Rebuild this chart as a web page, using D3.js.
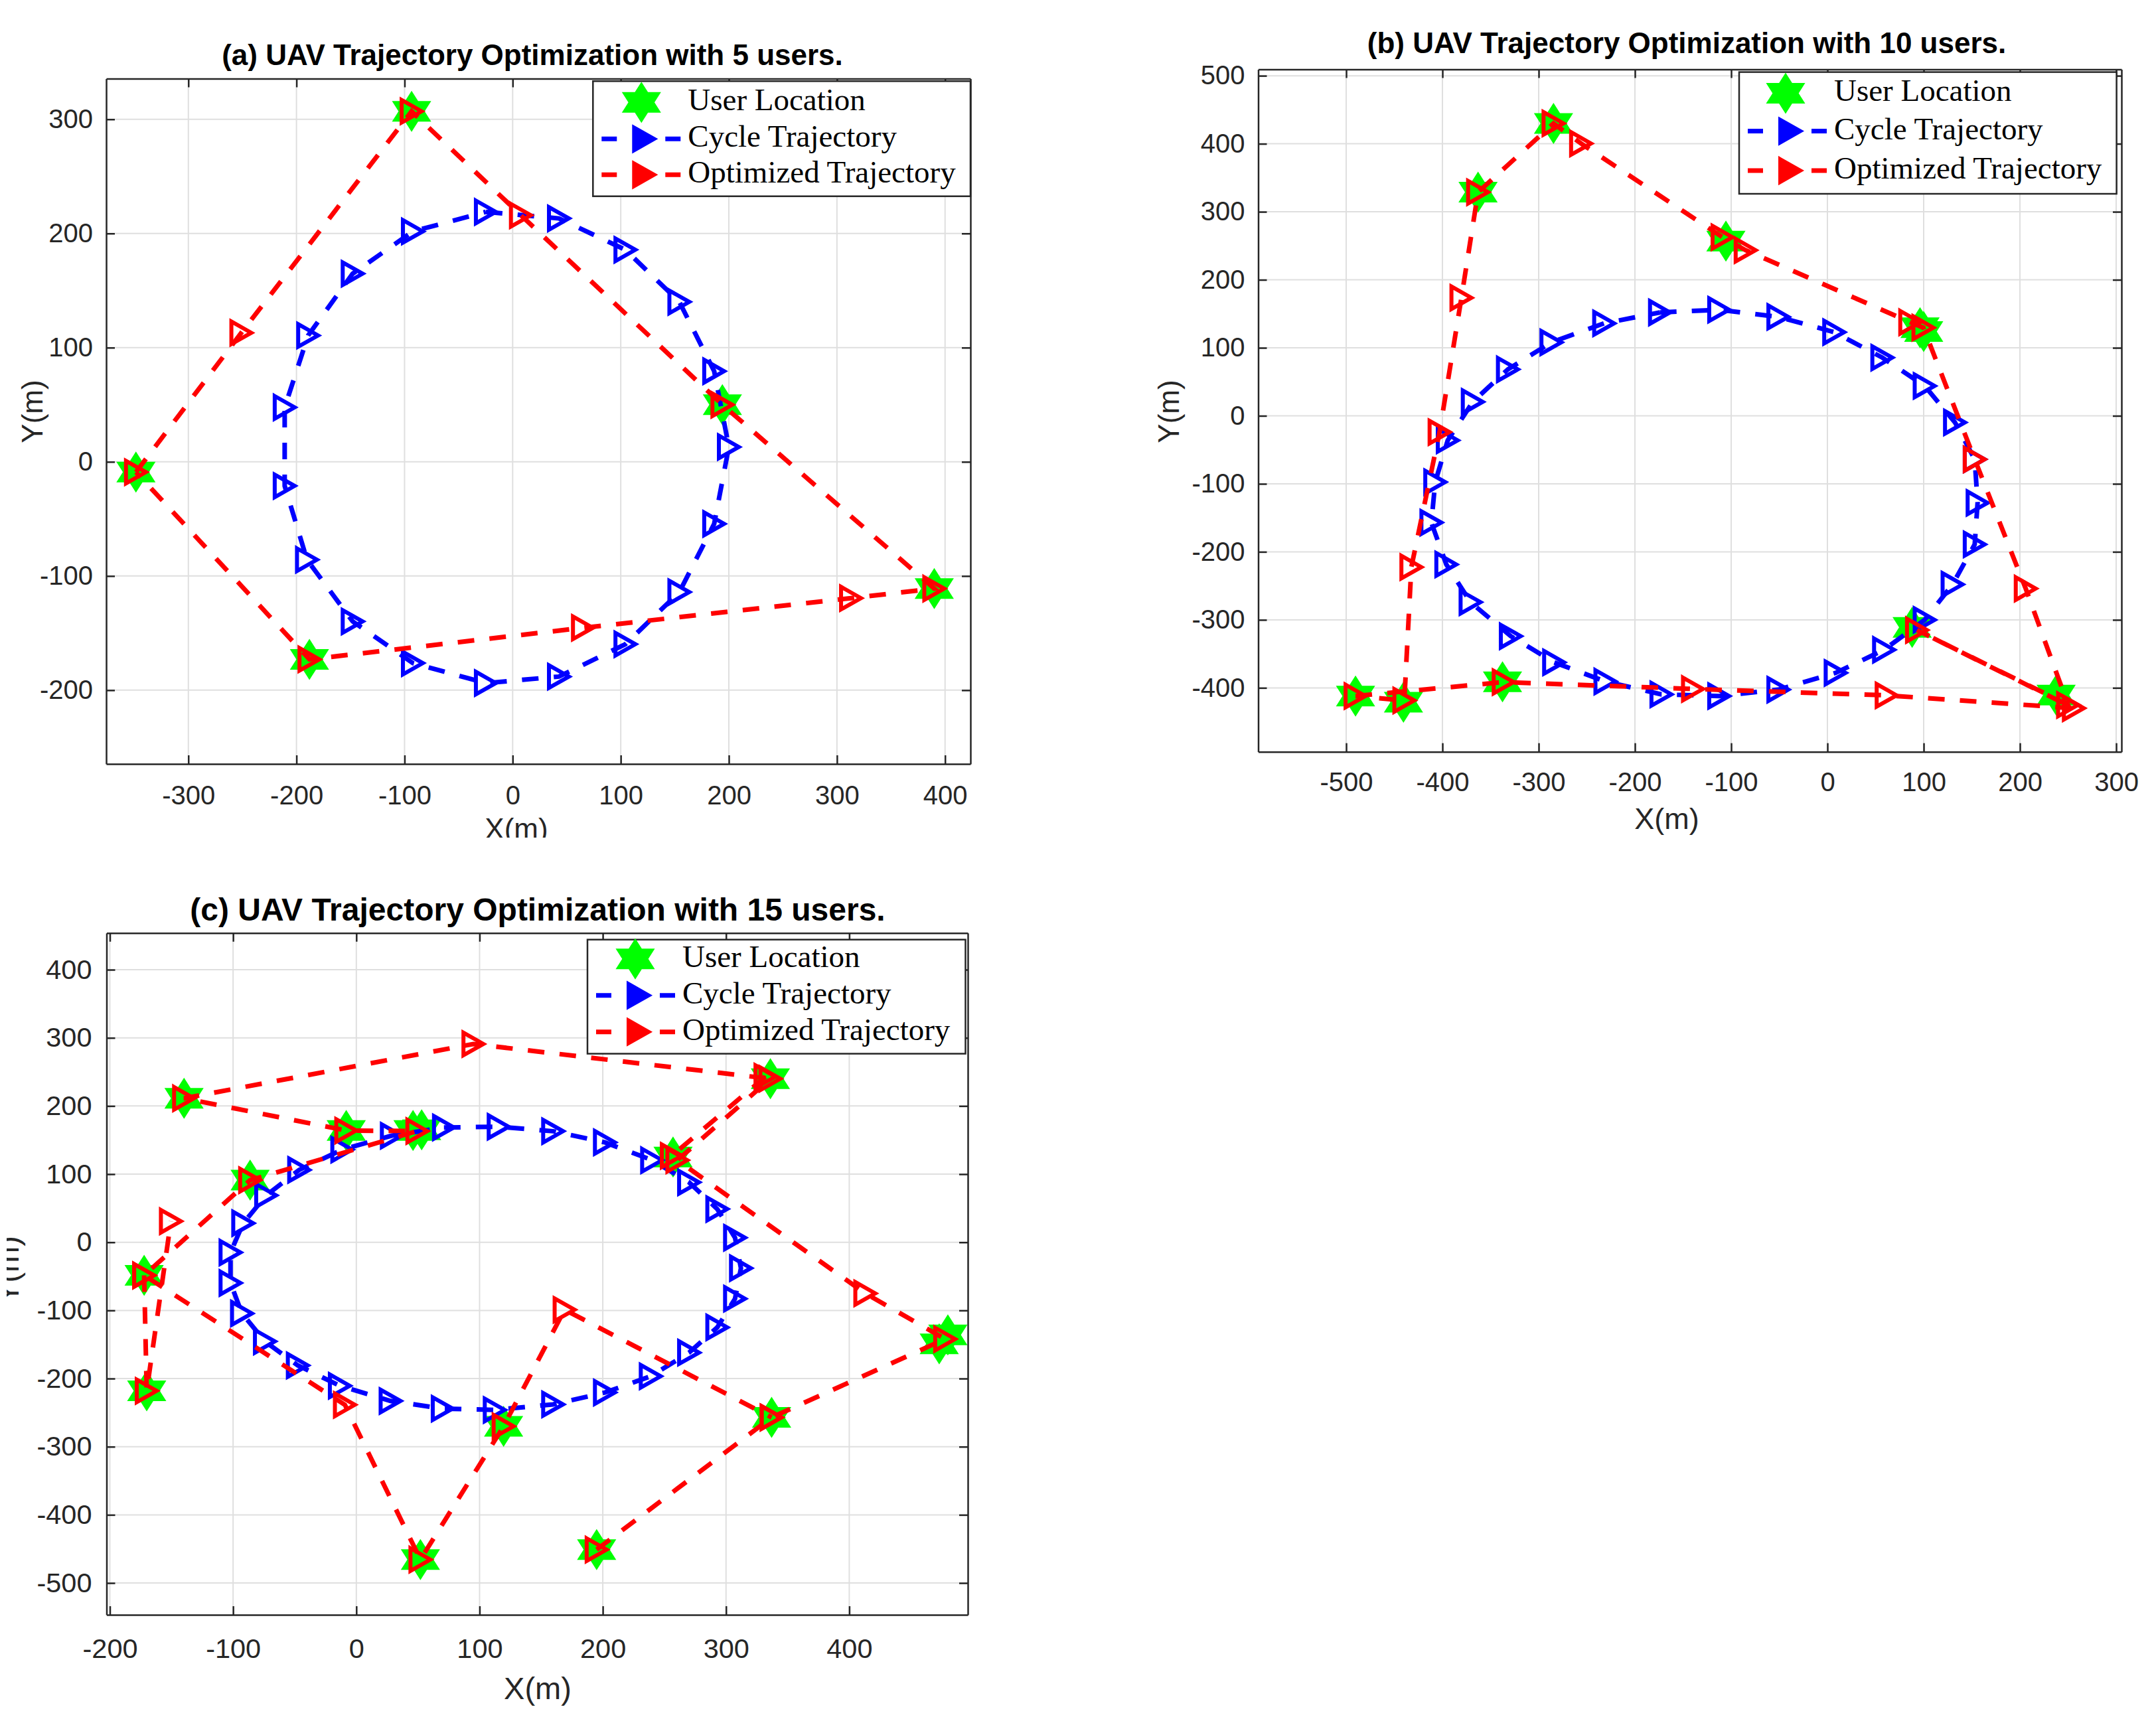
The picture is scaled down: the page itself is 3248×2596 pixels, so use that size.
<!DOCTYPE html>
<html>
<head>
<meta charset="utf-8">
<title>UAV Trajectory Optimization</title>
<script src="https://d3js.org/d3.v7.min.js"></script>
<style>
  body, html { margin: 0; padding: 0; background: #fff; }
  svg { display: block; }
</style>
</head>
<body>
<svg id="chart" width="3248" height="2596"></svg>
<script>
  // ---- (a) 5 users ----
  const usersA = [[-348.5, -9], [-93.5, 307], [194, 50], [390, -111], [-188, -173]];
  const cycleA = [
    [-24.8, 218.9], [42.8, 213.2], [104.3, 185.7], [154.2, 140.1], [186.4, 79.4],
    [200, 13], [186.4, -54.3], [154.2, -114.1], [104.3, -159.7], [42.8, -188.1],
    [-24.8, -193.8], [-92.3, -176.3], [-148, -139.8], [-190.3, -85.7], [-210.9, -21.1],
    [-210.9, 47.7], [-189.2, 110.7], [-148, 164.8], [-92.3, 201.8]
  ];
  const optA = [
    [-348.5, -9], [-251, 113], [-93.5, 307], [7.6, 216], [194, 50],
    [390, -111], [313, -119.4], [65, -145.4], [-188, -173]
  ];
  const xTicksA = [-300, -200, -100, 0, 100, 200, 300, 400];
  const yTicksA = [-200, -100, 0, 100, 200, 300];

  // ---- (b) 10 users ----
  const usersB = [
    [-284.6, 429.9], [-363, 328.8], [-105.5, 257], [96.2, 129.6], [100, 124],
    [88, -311], [-337.6, -391], [-490.3, -412], [-440.5, -421], [237.6, -410.7]
  ];
  const cycleB = [
    [-174, 152], [-112.5, 156], [-51, 145.5], [7, 123], [57, 85.6], [101, 44],
    [132.5, -9.7], [153, -64], [156, -128], [153, -189], [130, -248], [101, -300],
    [58.8, -344], [8.5, -378], [-51, -402.6], [-112.5, -412], [-172.5, -409.6],
    [-230.7, -390.6], [-284, -362.5], [-329, -324], [-370.8, -274], [-396, -218.5],
    [-411.5, -157], [-407.5, -97.4], [-394.5, -36], [-368.5, 20.5], [-332, 68.3],
    [-286.8, 108], [-232, 136]
  ];
  const optB = [
    [-490.3, -412], [-336.4, -391.5], [-139.7, -401.6], [61.5, -411], [256, -430],
    [93, -315], [250, -425], [206, -254], [153, -64], [99.7, 129.6], [86, 137.6],
    [-85, 243.5], [-109, 262.6], [-256, 400.4], [-284.6, 429.9], [-363, 328.8],
    [-380.3, 173.5], [-403, -24], [-432.3, -222.4], [-439.6, -418.5]
  ];
  const xTicksB = [-500, -400, -300, -200, -100, 0, 100, 200, 300];
  const yTicksB = [-400, -300, -200, -100, 0, 100, 200, 300, 400, 500];

  // ---- (c) 15 users ----
  const usersC = [
    [-139.8, 211.3], [-8.2, 164], [46, 164], [53, 165], [-86.2, 91.2],
    [257, 125], [336, 240], [-172.2, -48.5], [-170.1, -218], [119.5, -270],
    [337, -257], [473, -149], [480, -136], [52, -465.6], [195, -451]
  ];
  const cycleC = [
    [71.1, 168.5], [115.5, 169.5], [159.7, 163], [201.7, 146.6], [240, 120.5],
    [270, 88], [292.9, 48.8], [307.3, 6.7], [312.1, -38], [307.3, -82.8],
    [292.9, -124.9], [270, -161.9], [238.9, -196.6], [201.7, -220.5], [159.7, -237.9],
    [112.3, -246], [70.1, -244.1], [27.8, -232.9], [-13.4, -210.6], [-47.5, -180.7],
    [-74.2, -145.4], [-92.8, -104.4], [-102.1, -59.7], [-102.1, -14.9], [-91.8, 28],
    [-73.2, 68.8], [-46.4, 106.2], [-11.4, 136], [28.8, 156.5]
  ];
  // null = break in the line
  const optC = [
    [195, -451], [337, -257], [477.8, -142], [413, -75], [260.5, 120.5], [336, 240],
    [95, 291], [-139.8, 211.3], [-8.2, 164], [49.5, 163.2], [-86.2, 91.2],
    [-172.2, -48.5], [-9.3, -238.5], [52, -465.6], [119.5, -270], [169, -99], [337, -257],
    null,
    [332, 243], [256, 127],
    null,
    [-172.2, -48.5], [-170.1, -218], [-150.5, 30.9]
  ];
  const xTicksC = [-200, -100, 0, 100, 200, 300, 400];
  const yTicksC = [-500, -400, -300, -200, -100, 0, 100, 200, 300, 400];

  const legendLabels = ["User Location", "Cycle Trajectory", "Optimized Trajectory"];
  const titles = [
    "(a) UAV Trajectory Optimization with 5 users.",
    "(b) UAV Trajectory Optimization with 10 users.",
    "(c) UAV Trajectory Optimization with 15 users."
  ];

  const panels = [
    { title: titles[0], users: usersA, cycle: cycleA, opt: optA, optClosed: true,
      xTicks: xTicksA, yTicks: yTicksA,
      box: { l: 160, r: 1462, t: 118.5, b: 1151 }, xDomain: [-376, 423.5], yDomain: [-264.6, 335.6],
      tickFont: 40, xPad: 32.6, yPad: 20,
      titleX: 802, titleY: 98, titleFont: 44,
      xlab: { x: 778, y: 1264, f: 44, clip: "clipA" }, ylab: { x: 64, y: 620, f: 44 },
      legend: { x0: 893.3, y0: 122.3, x1: 1462, y1: 295.7, starDx: 73, rows: [32, 87, 141] } },
    { title: titles[1], users: usersB, cycle: cycleB, opt: optB, optClosed: true,
      xTicks: xTicksB, yTicks: yTicksB,
      box: { l: 1895.5, r: 3196, t: 104.5, b: 1132.7 }, xDomain: [-591.4, 305.5], yDomain: [-494, 509.4],
      tickFont: 40, xPad: 31, yPad: 20,
      titleX: 2541, titleY: 80, titleFont: 44,
      xlab: { x: 2511, y: 1249, f: 45 }, ylab: { x: 1776, y: 620, f: 44 },
      legend: { x0: 2620, y0: 108.6, x1: 3188.6, y1: 292, starDx: 70, rows: [31.8, 89, 148.4] } },
    { title: titles[2], users: usersC, cycle: cycleC, opt: optC, optClosed: false,
      xTicks: xTicksC, yTicks: yTicksC,
      box: { l: 160.5, r: 1458, t: 1405.8, b: 2433 }, xDomain: [-202.7, 496.2], yDomain: [-546.7, 453.8],
      tickFont: 41.5, xPad: 35.5, yPad: 22,
      titleX: 810, titleY: 1387, titleFont: 48,
      xlab: { x: 810, y: 2560, f: 47 }, ylab: { x: 28, y: 1913, f: 47, clip: "clipC" },
      legend: { x0: 885, y0: 1415.7, x1: 1454.5, y1: 1587.6, starDx: 72, rows: [29, 84, 139] } }
  ];

  const AX = "#262626";
  const GRID = "#dfdfdf";
  const SANS = "'Liberation Sans', Arial, Helvetica, sans-serif";
  const SERIF = "'Liberation Serif', 'Times New Roman', serif";
  const colors = { user: "#00ff00", cycle: "#0000ff", opt: "#ff0000" };

  const svg = d3.select("#chart");
  svg.append("rect").attr("width", 3248).attr("height", 2596).attr("fill", "#fff");

  const defs = svg.append("defs");
  defs.append("clipPath").attr("id", "clipA")
    .append("rect").attr("x", 0).attr("y", 0).attr("width", 3248).attr("height", 1262);
  defs.append("clipPath").attr("id", "clipC")
    .append("rect").attr("x", 10).attr("y", 0).attr("width", 3238).attr("height", 2596);

  // hexagram, point up
  function hexagram(R) {
    const r = R / Math.sqrt(3), pts = [];
    for (let k = 0; k < 12; k++) {
      const a = (-90 + k * 30) * Math.PI / 180;
      const rr = k % 2 === 0 ? R : r;
      pts.push([rr * Math.cos(a) * 1.1, rr * Math.sin(a)]);
    }
    return "M" + pts.map(p => p.join(",")).join("L") + "Z";
  }
  const starPath = hexagram(31);
  const triPath = "M-15,-17L15,0L-15,17Z";

  function drawSeries(g, pts, closed, color, x, y) {
    const data = closed ? pts.concat([pts[0]]) : pts;
    const line = d3.line().defined(d => d !== null).x(d => x(d[0])).y(d => y(d[1]));
    g.append("path")
      .attr("d", line(data))
      .attr("fill", "none")
      .attr("stroke", color)
      .attr("stroke-width", 7)
      .attr("stroke-dasharray", "25,23");
    g.append("g").selectAll("path")
      .data(pts.filter(d => d !== null))
      .join("path")
      .attr("d", triPath)
      .attr("transform", d => `translate(${x(d[0])},${y(d[1])})`)
      .attr("fill", "none")
      .attr("stroke", color)
      .attr("stroke-width", 6)
      .attr("stroke-linejoin", "miter");
  }

  function styleAxis(sel, font) {
    sel.selectAll("path, line").attr("stroke", AX).attr("stroke-width", 2.5);
    sel.selectAll("text").attr("fill", AX).attr("font-size", font).attr("font-family", SANS);
  }

  panels.forEach(p => {
    const { l, r, t, b } = p.box;
    const x = d3.scaleLinear().domain(p.xDomain).range([l, r]);
    const y = d3.scaleLinear().domain(p.yDomain).range([b, t]);
    const g = svg.append("g");

    // grid
    g.append("g").selectAll("line").data(p.xTicks).join("line")
      .attr("x1", d => x(d)).attr("x2", d => x(d)).attr("y1", t).attr("y2", b)
      .attr("stroke", GRID).attr("stroke-width", 2);
    g.append("g").selectAll("line").data(p.yTicks).join("line")
      .attr("y1", d => y(d)).attr("y2", d => y(d)).attr("x1", l).attr("x2", r)
      .attr("stroke", GRID).attr("stroke-width", 2);

    // users
    g.append("g").selectAll("path").data(p.users).join("path")
      .attr("d", starPath)
      .attr("transform", d => `translate(${x(d[0])},${y(d[1])})`)
      .attr("fill", colors.user);

    drawSeries(g, p.cycle, true, colors.cycle, x, y);
    drawSeries(g, p.opt, p.optClosed, colors.opt, x, y);

    // axes (ticks inward on all four sides)
    const fmt = d => String(d);
    g.append("g").attr("transform", `translate(0,${b})`)
      .call(d3.axisBottom(x).tickValues(p.xTicks).tickSizeInner(-13).tickSizeOuter(0)
        .tickPadding(p.xPad).tickFormat(fmt))
      .call(s => styleAxis(s, p.tickFont));
    g.append("g").attr("transform", `translate(${l},0)`)
      .call(d3.axisLeft(y).tickValues(p.yTicks).tickSizeInner(-13).tickSizeOuter(0)
        .tickPadding(p.yPad).tickFormat(fmt))
      .call(s => styleAxis(s, p.tickFont));
    g.append("g").attr("transform", `translate(0,${t})`)
      .call(d3.axisTop(x).tickValues(p.xTicks).tickSizeInner(-13).tickSizeOuter(0).tickFormat(""))
      .call(s => styleAxis(s, p.tickFont));
    g.append("g").attr("transform", `translate(${r},0)`)
      .call(d3.axisRight(y).tickValues(p.yTicks).tickSizeInner(-13).tickSizeOuter(0).tickFormat(""))
      .call(s => styleAxis(s, p.tickFont));

    // title and labels
    g.append("text").attr("x", p.titleX).attr("y", p.titleY)
      .attr("text-anchor", "middle").attr("font-family", SANS).attr("font-weight", "bold")
      .attr("font-size", p.titleFont).attr("fill", "#000").text(p.title);
    const xl = g.append("text").attr("x", p.xlab.x).attr("y", p.xlab.y)
      .attr("text-anchor", "middle").attr("font-family", SANS)
      .attr("font-size", p.xlab.f).attr("fill", AX).text("X(m)");
    if (p.xlab.clip) xl.attr("clip-path", `url(#${p.xlab.clip})`);
    const ylg = g.append("g");
    if (p.ylab.clip) ylg.attr("clip-path", `url(#${p.ylab.clip})`);
    ylg.append("text")
      .attr("transform", `translate(${p.ylab.x},${p.ylab.y}) rotate(-90)`)
      .attr("text-anchor", "middle").attr("font-family", SANS)
      .attr("font-size", p.ylab.f).attr("fill", AX).text("Y(m)");

    // legend
    const L = p.legend;
    const lg = g.append("g");
    lg.append("rect").attr("x", L.x0).attr("y", L.y0)
      .attr("width", L.x1 - L.x0).attr("height", L.y1 - L.y0)
      .attr("fill", "#fff").attr("stroke", AX).attr("stroke-width", 2.5);
    lg.append("path").attr("d", starPath)
      .attr("transform", `translate(${L.x0 + L.starDx},${L.y0 + L.rows[0]})`)
      .attr("fill", colors.user);
    [colors.cycle, colors.opt].forEach((c, i) => {
      const cy = L.y0 + L.rows[i + 1];
      lg.append("line").attr("x1", L.x0 + 13).attr("x2", L.x0 + 132)
        .attr("y1", cy).attr("y2", cy)
        .attr("stroke", c).attr("stroke-width", 7).attr("stroke-dasharray", "23,73");
      lg.append("path").attr("d", triPath)
        .attr("transform", `translate(${L.x0 + 77},${cy})`)
        .attr("fill", c).attr("stroke", c).attr("stroke-width", 6);
    });
    lg.selectAll("text.leg").data(legendLabels).join("text")
      .attr("class", "leg")
      .attr("x", L.x0 + 143)
      .attr("y", (d, i) => L.y0 + L.rows[i] + 12)
      .attr("font-family", SERIF).attr("font-size", 47).attr("fill", "#000")
      .text(d => d);
  });
</script>
</body>
</html>
